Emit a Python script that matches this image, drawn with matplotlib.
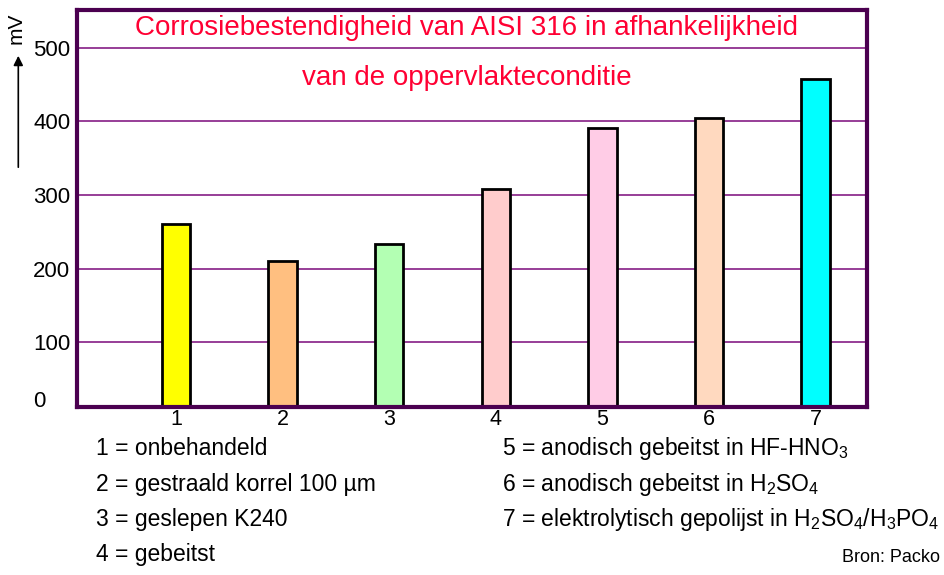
import matplotlib.pyplot as plt

plt.rcParams['font.family'] = ['Liberation Sans', 'DejaVu Sans']
plt.rcParams['mathtext.default'] = 'regular'

# data
conditions = [1, 2, 3, 4, 5, 6, 7]
potential_mv = [260, 210, 233, 308, 391, 405, 458]
bar_colors = ['#FFFF00', '#FFBF80', '#B3FFB3', '#FFCCCC', '#FFCCE6', '#FFD9BF', '#00FFFF']
y_ticks = [0, 100, 200, 300, 400, 500]
legend_left = ['1 = onbehandeld', '2 = gestraald korrel 100 µm',
               '3 = geslepen K240', '4 = gebeitst']
legend_right = ['5 = anodisch gebeitst in HF-HNO$_3$',
                '6 = anodisch gebeitst in H$_2$SO$_4$',
                '7 = elektrolytisch gepolijst in H$_2$SO$_4$/H$_3$PO$_4$']
title_lines = ['Corrosiebestendigheid van AISI 316 in afhankelijkheid',
               'van de oppervlakteconditie']

border = '#4B0050'
grid_c = '#7A0A7A'
H = 575.0

fig = plt.figure(figsize=(9.45, 5.75), dpi=100)
ax = fig.add_axes([0.0815, 0.2927, 0.8355, 0.6899])

ymin, ymax = 12.6, 551
ax.set_xlim(0.07, 7.48)
ax.set_ylim(ymin, ymax)

for v in y_ticks[1:]:
    ax.axhline(v, color=grid_c, lw=1.1, zorder=1)

ax.bar(conditions, potential_mv, width=0.267, bottom=0, color=bar_colors,
       edgecolor='black', linewidth=2, zorder=3)

for s in ax.spines.values():
    s.set_color(border)
    s.set_linewidth(3)
    s.set_zorder(4)

# y tick labels (left aligned); the 0 label sits just above the bottom border
tick_pos = [max(v, ymin + 11) for v in y_ticks]
ax.set_yticks(tick_pos)
ax.set_yticklabels([str(v) for v in y_ticks], fontsize=16)
for lab in ax.get_yticklabels():
    lab.set_horizontalalignment('left')
ax.tick_params(axis='y', length=0, pad=31.5)
ax.set_xticks(conditions)
ax.set_xticklabels([str(c) for c in conditions], fontsize=15.5)
ax.tick_params(axis='x', length=0, pad=2)

# unit label with arrow
fig.text(16.5 / 945, 1 - 28 / H, 'mV', rotation=90, fontsize=15, ha='center', va='center')
fig.add_artist(plt.Annotation('', xy=(18.3 / 945, 1 - 53 / H), xytext=(18.3 / 945, 1 - 170 / H),
                              xycoords='figure fraction',
                              arrowprops=dict(arrowstyle='-|>', color='black', lw=1.2,
                                              mutation_scale=14)))

# title
fig.text(467 / 945, 1 - 35 / H, title_lines[0], color='#FF0033', fontsize=20,
         ha='center', va='baseline')
fig.text(467 / 945, 1 - 85 / H, title_lines[1], color='#FF0033', fontsize=20,
         ha='center', va='baseline')

# legend text
for i, t in enumerate(legend_left):
    fig.text(96 / 945, 1 - (455 + 35.5 * i) / H, t, fontsize=16.5, va='baseline')
for i, t in enumerate(legend_right):
    fig.text(502 / 945, 1 - (455 + 35.5 * i) / H, t, fontsize=16.5, va='baseline')

fig.text(940 / 945, 1 - 562 / H, 'Bron: Packo', fontsize=13, ha='right', va='baseline')

fig.savefig('out.png', dpi=100)
